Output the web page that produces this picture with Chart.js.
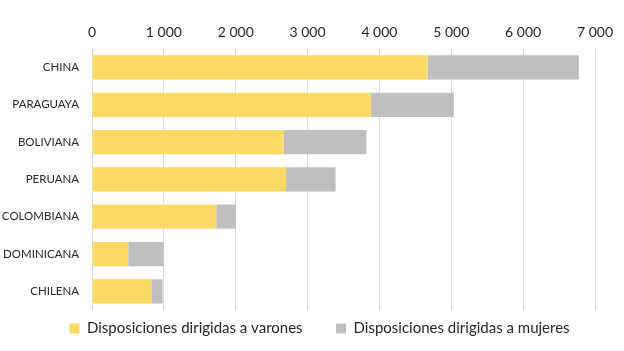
<!DOCTYPE html>
<html>
<head>
<meta charset="utf-8">
<script src="https://cdn.jsdelivr.net/npm/chart.js@4"></script>
<style>
  html, body { margin: 0; padding: 0; background: #fff; }
  #wrap { width: 624px; height: 351px; }
</style>
</head>
<body>
<div id="wrap"><canvas id="dispChart"></canvas></div>
<script>
const categories = ['CHINA', 'PARAGUAYA', 'BOLIVIANA', 'PERUANA', 'COLOMBIANA', 'DOMINICANA', 'CHILENA'];
const varones = [4670, 3880, 2665, 2700, 1730, 505, 825];
const mujeres = [2105, 1155, 1155, 690, 275, 490, 157];
const seriesNames = ['Disposiciones dirigidas a varones', 'Disposiciones dirigidas a mujeres'];
const xTicks = [0, 1000, 2000, 3000, 4000, 5000, 6000, 7000];

Chart.defaults.font.family = 'Lato, "Open Sans", sans-serif';
Chart.defaults.color = '#262626';

function formatNum(v) {
    return String(v).replace(/\B(?=(\d{3})+(?!\d))/g, ' ');
}

// nudge the legend row to the right, like in the original
const legendShift = {
    id: 'legendShift',
    afterLayout(chart) {
        chart.legend.left += 22;
        chart.legend.right += 22;
    }
};

const ctx = document.getElementById('dispChart').getContext('2d');
new Chart(ctx, {
    type: 'bar',
    data: {
        labels: categories,
        datasets: [
            { label: seriesNames[0], data: varones, backgroundColor: '#FFD966' },
            { label: seriesNames[1], data: mujeres, backgroundColor: '#BFBFBF' }
        ]
    },
    options: {
        indexAxis: 'y',
        responsive: true,
        maintainAspectRatio: false,
        animation: false,
        layout: { padding: { top: 16, right: 29, bottom: 5, left: 0 } },
        datasets: { bar: { barPercentage: 0.65, categoryPercentage: 1 } },
        scales: {
            x: {
                position: 'top',
                stacked: true,
                min: 0,
                max: 7000,
                afterBuildTicks: (scale) => {
                    scale.ticks = xTicks.map(v => ({ value: v }));
                },
                ticks: {
                    padding: 8,
                    font: { size: 14 },
                    callback: (v) => formatNum(v)
                },
                grid: { color: '#D9D9D9', drawTicks: false },
                border: { display: false }
            },
            y: {
                stacked: true,
                afterFit: (scale) => { scale.width = 92; },
                ticks: { padding: 13, font: { size: 11.5 } },
                grid: { display: false, drawTicks: false },
                border: { display: false }
            }
        },
        plugins: {
            legend: {
                position: 'bottom',
                labels: {
                    boxWidth: 10,
                    boxHeight: 10,
                    padding: 11,
                    font: { size: 15 },
                    generateLabels: (chart) => {
                        const items = Chart.defaults.plugins.legend.labels.generateLabels(chart);
                        items[0].text += '\u2003\u2003';
                        return items;
                    }
                }
            },
            tooltip: { enabled: false }
        }
    },
    plugins: [legendShift]
});
</script>
</body>
</html>
